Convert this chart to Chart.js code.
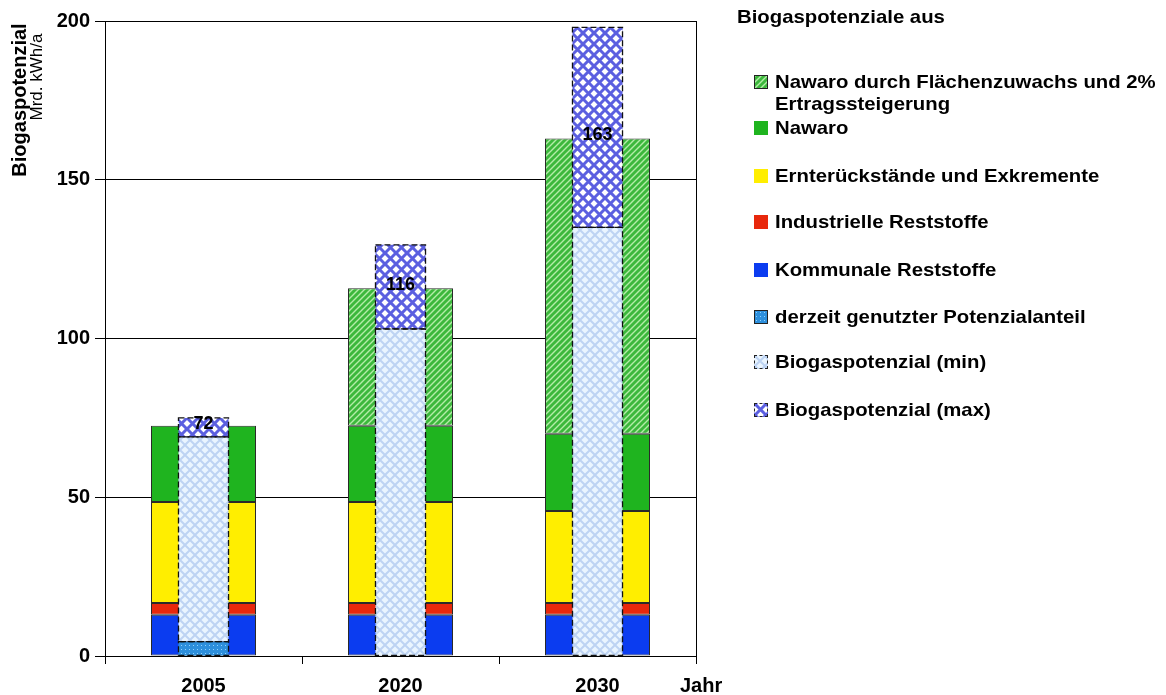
<!DOCTYPE html>
<html>
<head>
<meta charset="utf-8">
<script src="https://cdn.jsdelivr.net/npm/chart.js@4.4.1/dist/chart.umd.min.js"></script>
<style>
  body { margin: 0; background: #fff; font-family: "Liberation Sans", Arial, sans-serif; }
  #wrap { position: relative; width: 1166px; height: 695px; overflow: hidden; }
  #chart { position: absolute; left: 0; top: 0; }
  .abs { position: absolute; white-space: nowrap; color: #000; }
  .rot { transform: translate(-50%, -50%) rotate(-90deg); }
  .leg { position: absolute; left: 754px; width: 420px; white-space: nowrap; font-weight: bold; font-size: 19px; line-height: 22px; }
  .leg .sw { position: absolute; left: 0; top: 4px; width: 14px; height: 14px; box-sizing: border-box; }
  .leg .tx { position: absolute; left: 21px; top: 0; transform: scaleX(1.07); transform-origin: left; }
</style>
</head>
<body>
<div id="wrap">
  <canvas id="chart" width="1166" height="695"></canvas>
  <div class="abs rot" style="left:19px; top:100px; font-weight:bold; font-size:20px;">Biogaspotenzial</div>
  <div class="abs rot" style="left:37px; top:77px; font-size:17px;">Mrd. kWh/a</div>
  <div class="abs" style="left:680px; top:674px; font-weight:bold; font-size:20px;">Jahr</div>
  <div class="abs" style="left:737px; top:6px; font-weight:bold; font-size:19px; transform:scaleX(1.07); transform-origin:left;">Biogaspotenziale aus</div>
  <div id="legend"></div>
</div>
<script>
// values in Mrd. kWh/a
const years = ["2005", "2020", "2030"];
const kommunale = [13, 13, 13];
const industrielle = [3.7, 3.7, 3.7];
const ernte = [31.8, 31.8, 29];
const nawaro = [24, 24, 24.3];
const nawaroZuwachs = [0, 43.3, 93];
const genutzt = [4.5, 0, 0];
const potMin = [69, 103, 135];
const potMax = [75, 129.5, 198];
const totals = [72, 116, 163];
const yTicks = [0, 50, 100, 150, 200];

function makePattern(size, bg, draw) {
  let c = document.createElement("canvas");
  c.width = size;
  c.height = size;
  let g = c.getContext("2d");
  g.fillStyle = bg;
  g.fillRect(0, 0, size, size);
  draw(g, size);
  return c;
}

function diag(g, s, color, w) {
  g.strokeStyle = color;
  g.lineWidth = w;
  g.beginPath();
  g.moveTo(0, s); g.lineTo(s, 0);
  g.moveTo(-1, 1); g.lineTo(1, -1);
  g.moveTo(s - 1, s + 1); g.lineTo(s + 1, s - 1);
  g.stroke();
}

function lattice(g, s, color, w) {
  g.strokeStyle = color;
  g.lineWidth = w;
  g.beginPath();
  g.moveTo(0, 0); g.lineTo(s, s);
  g.moveTo(0, s); g.lineTo(s, 0);
  g.stroke();
}

const hatchGreenC = makePattern(6, "#3cb83c", (g, s) => diag(g, s, "#b4eca8", 1.4));
const minC = makePattern(10, "#eaf5ff", (g, s) => lattice(g, s, "#bdd3f3", 2));
const maxC = makePattern(11, "#ffffff", (g, s) => lattice(g, s, "#5b5fe0", 3));
const usedC = makePattern(4, "#2d8fdc", (g, s) => { g.fillStyle = "#8fd2ff"; g.fillRect(1, 1, 1, 1); });

let ctx = document.getElementById("chart").getContext("2d");
const hatchGreen = ctx.createPattern(hatchGreenC, "repeat");
const minFill = ctx.createPattern(minC, "repeat");
const maxFill = ctx.createPattern(maxC, "repeat");
const usedFill = ctx.createPattern(usedC, "repeat");

const innerMin = potMin.map((v, i) => v - genutzt[i]);
const innerMax = potMax.map((v, i) => v - potMin[i]);

function outer(label, data, color) {
  return {
    label: label, data: data, stack: "outer", backgroundColor: color,
    borderColor: "#2a2a2a", borderWidth: 1, borderSkipped: false,
    categoryPercentage: 1, barPercentage: 0.533, grouped: false
  };
}
function inner(label, data, color) {
  return {
    label: label, data: data, stack: "inner", backgroundColor: color,
    borderWidth: 0, categoryPercentage: 1, barPercentage: 0.254, grouped: false, dashed: true
  };
}

// inner datasets first so they are drawn on top
const datasets = [
  inner("derzeit genutzter Potenzialanteil", genutzt, usedFill),
  inner("Biogaspotenzial (min)", innerMin, minFill),
  inner("Biogaspotenzial (max)", innerMax, maxFill),
  outer("Kommunale Reststoffe", kommunale, "#0b3cf0"),
  outer("Industrielle Reststoffe", industrielle, "#e8280c"),
  outer("Ernterückstände und Exkremente", ernte, "#ffee00"),
  outer("Nawaro", nawaro, "#1fb41f"),
  outer("Nawaro durch Flächenzuwachs und 2% Ertragssteigerung", nawaroZuwachs, hatchGreen)
];

const overlay = {
  id: "overlay",
  afterDatasetsDraw(chart) {
    let c = chart.ctx;
    c.save();
    c.strokeStyle = "#111";
    c.lineWidth = 1.3;
    c.setLineDash([6, 3]);
    chart.data.datasets.forEach((ds, di) => {
      if (!ds.dashed) return;
      chart.getDatasetMeta(di).data.forEach(el => {
        let p = el.getProps(["x", "y", "base", "width"], true);
        if (Math.abs(p.base - p.y) < 0.5) return;
        c.strokeRect(p.x - p.width / 2, p.y, p.width, p.base - p.y);
      });
    });
    c.setLineDash([]);
    c.fillStyle = "#000";
    c.font = "bold 18px 'Liberation Sans', Arial, sans-serif";
    c.textAlign = "center";
    c.textBaseline = "middle";
    let meta = chart.getDatasetMeta(0);
    totals.forEach((t, i) => {
      let x = meta.data[i].x;
      let y = chart.scales.y.getPixelForValue(t) - 3;
      c.fillText(String(t), x, y);
    });
    c.restore();
  }
};

const tickFont = { family: "'Liberation Sans', Arial, sans-serif", size: 20, weight: "bold" };

let chart = new Chart(ctx, {
  type: "bar",
  data: { labels: years, datasets: datasets },
  options: {
    responsive: false,
    animation: false,
    layout: { padding: { left: 0, top: 21, right: 470, bottom: 0 } },
    plugins: { legend: { display: false }, tooltip: { enabled: false } },
    scales: {
      x: {
        grid: { display: true, drawOnChartArea: false, color: "#000", tickLength: 8, offset: true },
        border: { color: "#000", width: 1 },
        ticks: { font: tickFont, color: "#000", padding: 10 },
        afterFit(scale) { scale.height = 39; }
      },
      y: {
        stacked: true,
        min: 0, max: 200,
        afterBuildTicks(scale) { scale.ticks = yTicks.map(v => ({ value: v })); },
        grid: { color: "#000", lineWidth: 1, tickLength: 10 },
        border: { color: "#000", width: 1 },
        ticks: { font: tickFont, color: "#000", padding: 5 },
        afterFit(scale) { scale.width = 105; }
      },
      yr: {
        position: "right",
        display: true,
        ticks: { display: false },
        grid: { display: false, drawTicks: false },
        border: { display: true, color: "#000", width: 1 },
        afterFit(scale) { scale.width = 0; }
      }
    }
  },
  plugins: [overlay]
});

// html legend
const legendItems = [
  { text: "Nawaro durch Flächenzuwachs und 2%<br>Ertragssteigerung", bg: "url(" + hatchGreenC.toDataURL() + ")", border: "1px solid #222", top: 71 },
  { text: "Nawaro", bg: "#1fb41f", border: "none", top: 117 },
  { text: "Ernterückstände und Exkremente", bg: "#ffee00", border: "none", top: 165 },
  { text: "Industrielle Reststoffe", bg: "#e8280c", border: "none", top: 211 },
  { text: "Kommunale Reststoffe", bg: "#0b3cf0", border: "none", top: 259 },
  { text: "derzeit genutzter Potenzialanteil", bg: "url(" + usedC.toDataURL() + ")", border: "1px solid #222", top: 306 },
  { text: "Biogaspotenzial (min)", bg: "url(" + minC.toDataURL() + ")", border: "1px dashed #222", top: 351 },
  { text: "Biogaspotenzial (max)", bg: "url(" + maxC.toDataURL() + ")", border: "1px dashed #222", top: 399 }
];
let legendBox = document.getElementById("legend");
legendItems.forEach(it => {
  let row = document.createElement("DIV");
  row.classList.add("leg");
  row.style.top = it.top + "px";
  let sw = document.createElement("DIV");
  sw.classList.add("sw");
  sw.style.background = it.bg;
  sw.style.border = it.border;
  let tx = document.createElement("DIV");
  tx.classList.add("tx");
  tx.innerHTML = it.text;
  row.append(sw, tx);
  legendBox.append(row);
});
</script>
</body>
</html>
